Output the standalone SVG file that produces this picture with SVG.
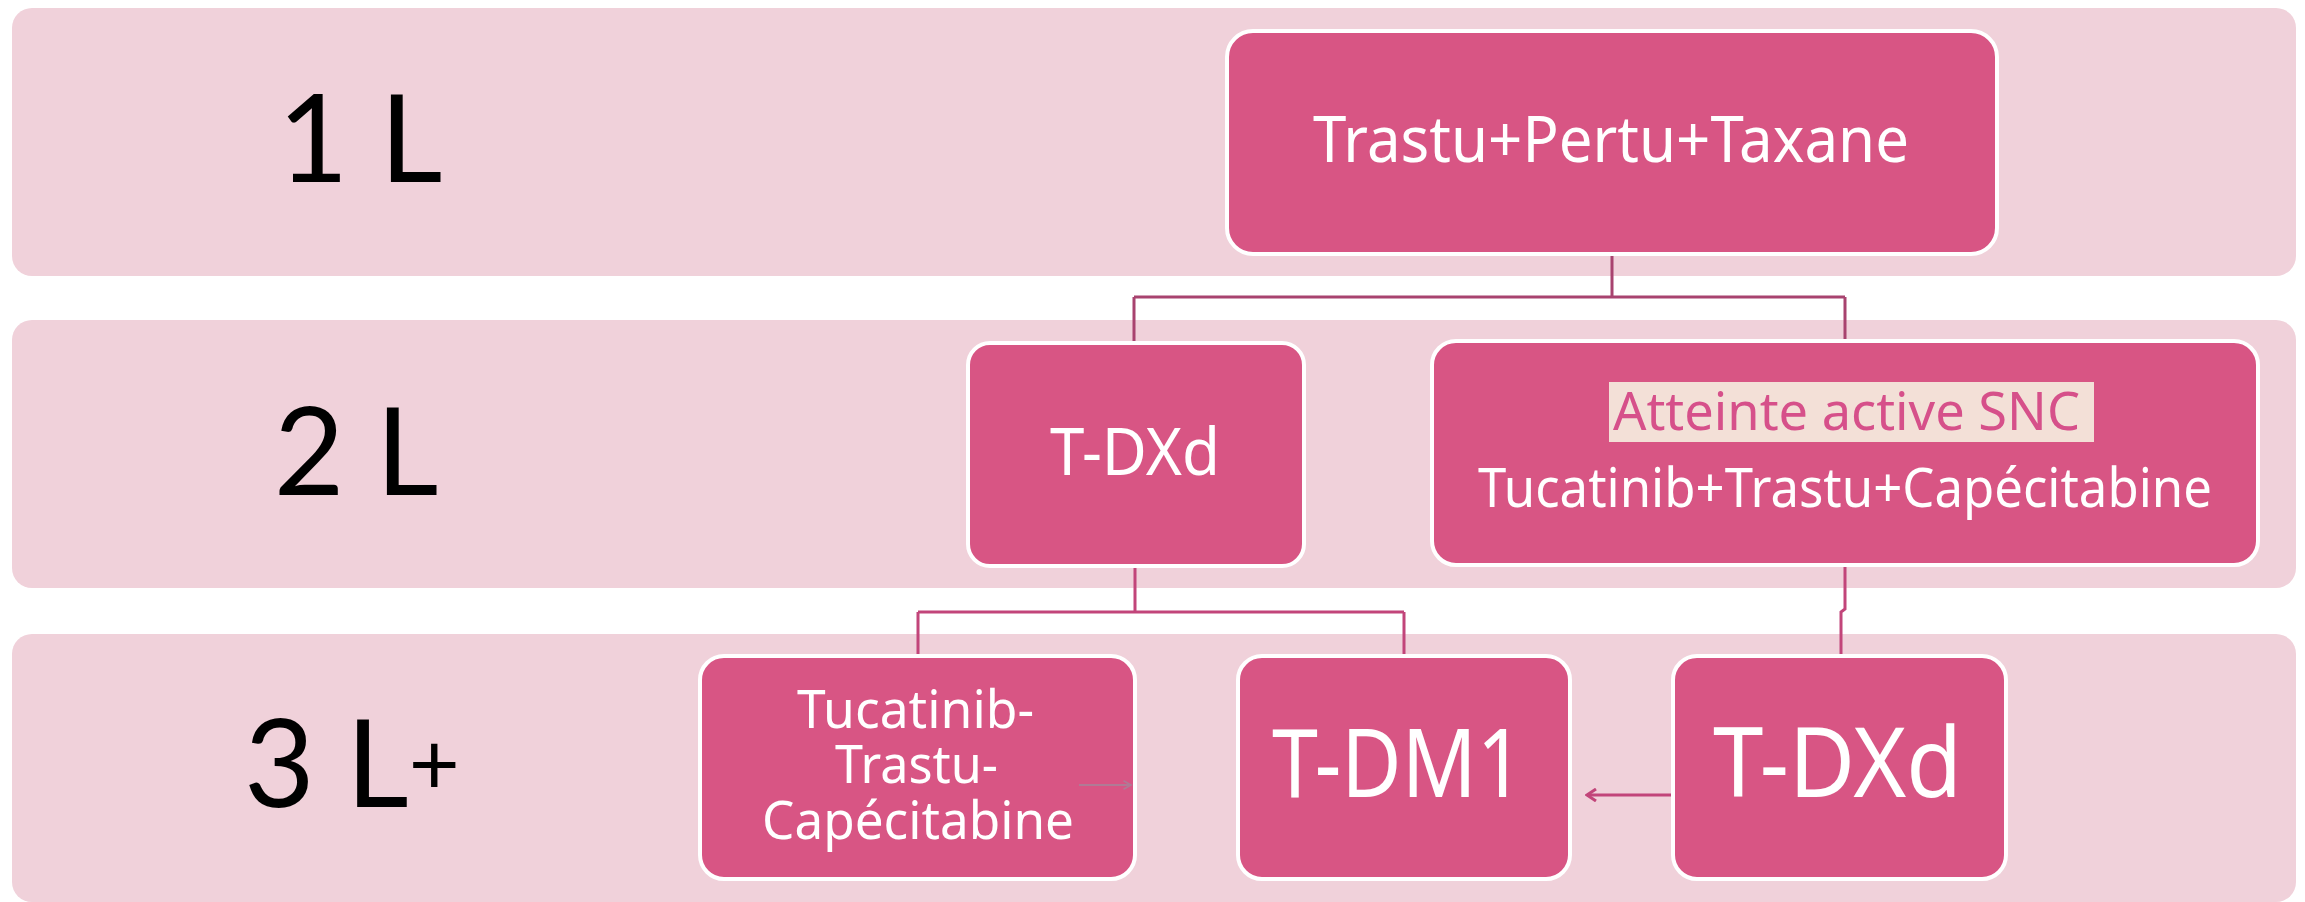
<svg xmlns="http://www.w3.org/2000/svg" width="2305" height="902" viewBox="0 0 2305 902">
<defs>
<style>
.band{fill:#f0d1da;}
.node{fill:#d85584;stroke:#ffffff;stroke-width:4;}
.lbl{font-family:Lato,"Open Sans",sans-serif;fill:#000000;}
.t{font-family:"Noto Sans","Open Sans",sans-serif;fill:#ffffff;}
.conn{fill:none;stroke:#a8436f;stroke-width:3;}
.conn2{fill:none;stroke:#c2457a;stroke-width:3;}
</style>
<marker id="ah" viewBox="0 0 14 14" refX="12" refY="7" markerWidth="14" markerHeight="14" markerUnits="userSpaceOnUse" orient="auto">
<path d="M3,1 L12,7 L3,13" fill="none" stroke="#c2457a" stroke-width="3"/>
</marker>
<marker id="ah2" viewBox="0 0 12 12" refX="10" refY="6" markerWidth="10" markerHeight="10" markerUnits="userSpaceOnUse" orient="auto">
<path d="M1,1 L10,6 L1,11" fill="none" stroke="#b07a95" stroke-width="2"/>
</marker>
</defs>
<rect width="2305" height="902" fill="#ffffff"/>
<g id="bands">
<rect class="band" x="12" y="8" width="2284" height="268" rx="20"/>
<rect class="band" x="12" y="320" width="2284" height="268" rx="20"/>
<rect class="band" x="12" y="634" width="2284" height="268" rx="20"/>
</g>
<g id="labels">
<text class="lbl" x="360" y="182" font-size="122" text-anchor="middle">1 L</text>
<text class="lbl" x="356" y="495" font-size="122" text-anchor="middle">2 L</text>
<text class="lbl" x="244" y="807" font-size="122">3 L<tspan font-size="88" dy="-12">+</tspan></text>
</g>
<g id="connectors">
<path class="conn" d="M1612,254 V297 M1134,297 H1845 M1134,297 V342 M1845,297 V340"/>
<path class="conn2" d="M1135,566 V612 M918,612 H1404 M918,612 V655 M1404,612 V655 M1845,565 V609 L1841,612 V655"/>
<path class="conn2" d="M1673,795 H1587" marker-end="url(#ah)"/>
</g>
<g id="n1">
<rect class="node" x="1227" y="31" width="770" height="223" rx="26"/>
<text class="t" x="1313" y="162" font-size="64" textLength="596" lengthAdjust="spacingAndGlyphs">Trastu+Pertu+Taxane</text>
</g>
<g id="n2">
<rect class="node" x="968" y="343" width="336" height="223" rx="22"/>
<text class="t" x="1050" y="475" font-size="66" textLength="170" lengthAdjust="spacingAndGlyphs">T-DXd</text>
</g>
<g id="n3">
<rect class="node" x="1432" y="341" width="826" height="224" rx="24"/>
<rect x="1609" y="382" width="485" height="60" fill="#f3e0d7"/>
<text x="1613" y="430" font-size="53" textLength="467" lengthAdjust="spacingAndGlyphs" font-family="'Noto Sans','Open Sans',sans-serif" fill="#d6508a">Atteinte active SNC</text>
<text class="t" x="1478" y="507" font-size="55" textLength="734" lengthAdjust="spacingAndGlyphs">Tucatinib+Trastu+Capécitabine</text>
</g>
<g id="n4">
<rect class="node" x="700" y="656" width="435" height="223" rx="24"/>
<text class="t" x="797" y="728" font-size="53" textLength="237" lengthAdjust="spacingAndGlyphs">Tucatinib-</text>
<text class="t" x="835" y="783" font-size="53" textLength="163" lengthAdjust="spacingAndGlyphs">Trastu-</text>
<text class="t" x="762" y="839" font-size="53" textLength="312" lengthAdjust="spacingAndGlyphs">Capécitabine</text>
<path d="M1079,785 H1131" fill="none" stroke="#b07a95" stroke-width="2" marker-end="url(#ah2)"/>
</g>
<g id="n5">
<rect class="node" x="1238" y="656" width="332" height="223" rx="24"/>
<text class="t" x="1272" y="797" font-size="95" textLength="252" lengthAdjust="spacingAndGlyphs">T-DM1</text>
</g>
<g id="n6">
<rect class="node" x="1673" y="656" width="333" height="223" rx="24"/>
<text class="t" x="1713" y="797" font-size="96" textLength="249" lengthAdjust="spacingAndGlyphs">T-DXd</text>
</g>
</svg>
